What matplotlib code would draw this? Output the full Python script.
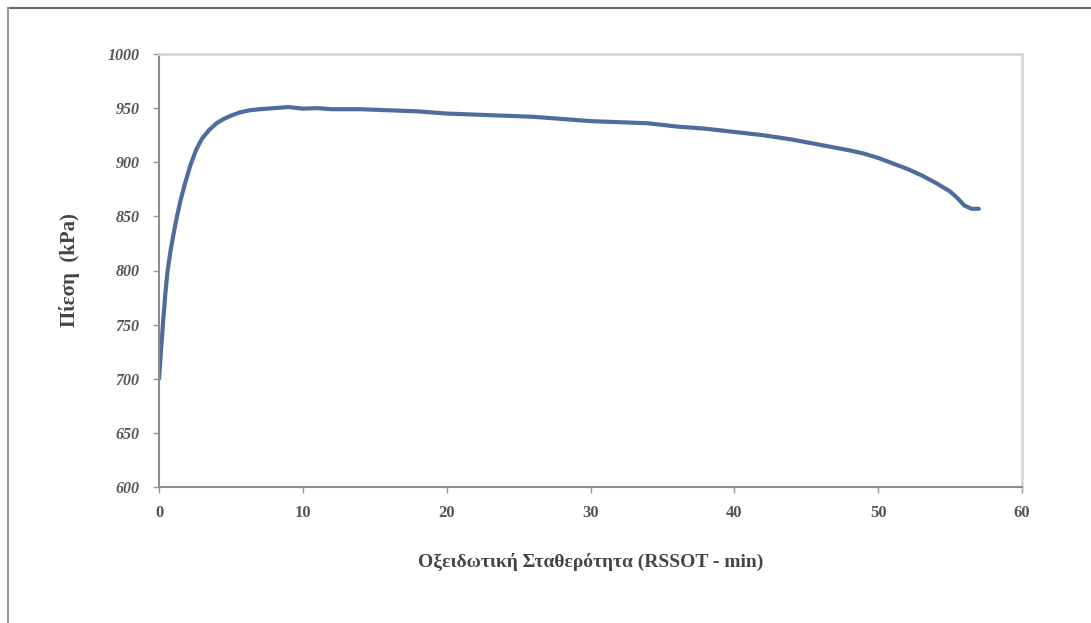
import matplotlib.pyplot as plt
from matplotlib.lines import Line2D

# oxidation stability run: time (min) vs pressure (kPa)
time_min = [0, 0.15, 0.3, 0.45, 0.6, 0.8, 1.0, 1.25, 1.5, 1.8, 2.2, 2.6, 3.0,
            3.5, 4.0, 4.5, 5.0, 5.6, 6.3, 7, 8, 9, 10, 11, 12, 14, 16, 18, 20,
            22, 24, 26, 28, 30, 32, 34, 36, 38, 40, 42, 44, 46, 48, 49, 50, 51,
            52, 53, 54, 55, 55.5, 56, 56.5, 57]
pressure_kpa = [700, 728, 755, 780, 800, 818, 833, 850, 865, 880, 898, 912, 922,
                930, 936, 940, 943, 946, 948, 949, 950, 951, 949.5, 950, 949,
                949, 948, 947, 945, 944, 943, 942, 940, 938, 937, 936, 933, 931,
                928, 925, 921, 916, 911, 908, 904, 899, 894, 888, 881, 873, 867,
                860, 857, 857]

x_ticks = [0, 10, 20, 30, 40, 50, 60]
y_ticks = [600, 650, 700, 750, 800, 850, 900, 950, 1000]

plt.rcParams['font.family'] = ['Liberation Serif', 'DejaVu Serif']

fig = plt.figure(figsize=(10.91, 6.23), dpi=100)
W, H = 1091, 623
ax = fig.add_axes([159 / W, 1 - 487 / H, (1022 - 159) / W, (487 - 54) / H])

ax.plot(time_min, pressure_kpa, color='#4f6d9c', linewidth=3,
        solid_capstyle='round', solid_joinstyle='round')

ax.set_xlim(0, 60)
ax.set_ylim(600, 1000)
ax.set_xticks(x_ticks)
ax.set_yticks(y_ticks)
ax.set_xticklabels([str(t) for t in x_ticks], fontsize=12, fontweight='bold',
                   color='#555555')
ax.set_yticklabels([str(t) for t in y_ticks], fontsize=11.5, fontweight='bold',
                   fontstyle='italic', color='#555555')
ax.tick_params(axis='y', direction='out', length=4, width=1, colors='#999999',
               labelcolor='#555555', pad=10)
ax.tick_params(axis='x', direction='out', length=4, width=1, colors='#999999',
               labelcolor='#555555', pad=9)

for side in ['left', 'bottom']:
    ax.spines[side].set_color('#8c8c8c')
    ax.spines[side].set_linewidth(1.5)
for side in ['top', 'right']:
    ax.spines[side].set_color('#d6d6d6')
    ax.spines[side].set_linewidth(2)

ax.set_xlabel('Οξειδωτική Σταθερότητα (RSSOT - min)', fontsize=14,
              fontweight='bold', color='#444444', labelpad=23)
ax.set_ylabel('Πίεση  (kPa)', fontsize=15, fontweight='bold', color='#444444',
              labelpad=20)

# frame lines along the top and left edge of the image
fig.add_artist(Line2D([8 / W, 1], [1 - 8 / H, 1 - 8 / H], color='#6a6a6a',
                      linewidth=1.5, transform=fig.transFigure))
fig.add_artist(Line2D([8 / W, 8 / W], [0, 1 - 8 / H], color='#9a9a9a',
                      linewidth=1.5, transform=fig.transFigure))

fig.savefig('out.png', dpi=100)
